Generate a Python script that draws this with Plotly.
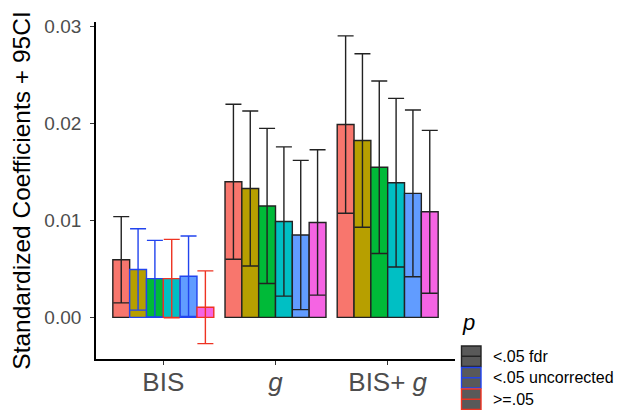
import plotly.graph_objects as go

# ---- data ----
groups = ["BIS", "g", "BIS+g"]
group_labels = ["BIS", "<i>g</i>", "BIS+ <i>g</i>"]
series_names = ["s1", "s2", "s3", "s4", "s5", "s6"]
series_colors = ["#F8766D", "#B79F00", "#00BA38", "#00BFC4", "#619CFF", "#F564E3"]

# estimates (rows = series, cols = groups)
estimates = [
    [0.00595, 0.0140, 0.0199],
    [0.00495, 0.0133, 0.01825],
    [0.0040, 0.0115, 0.0155],
    [0.0040, 0.0099, 0.0139],
    [0.00425, 0.0085, 0.0128],
    [0.00105, 0.0098, 0.0109],
]
# CI half-widths
ci_half = [
    [0.00445, 0.0080, 0.00915],
    [0.00420, 0.0080, 0.00895],
    [0.00395, 0.0080, 0.0089],
    [0.00405, 0.0077, 0.0087],
    [0.00415, 0.0077, 0.0086],
    [0.00375, 0.0075, 0.0084],
]
# significance category per bar
p_cat = [
    ["fdr", "fdr", "fdr"],
    ["unc", "fdr", "fdr"],
    ["unc", "fdr", "fdr"],
    ["ns", "fdr", "fdr"],
    ["unc", "fdr", "fdr"],
    ["ns", "fdr", "fdr"],
]
p_levels = ["fdr", "unc", "ns"]
p_labels = ["<.05 fdr", "<.05 uncorrected", ">=.05"]
p_colors = ["#222222", "#2244EE", "#EE3322"]

y_ticks = [0.0, 0.01, 0.02, 0.03]
y_ticktext = ["0.00", "0.01", "0.02", "0.03"]

FONT = "Liberation Sans, Arial, sans-serif"

fig = go.Figure()
for j, name in enumerate(series_names):
    for k, lvl in enumerate(p_levels):
        idx = [i for i in range(len(groups)) if p_cat[j][i] == lvl]
        if not idx:
            continue
        fig.add_trace(go.Bar(
            x=[i + 1 for i in idx],
            y=[estimates[j][i] for i in idx],
            offsetgroup=str(j),
            marker=dict(color=series_colors[j],
                        line=dict(color=p_colors[k], width=1.4)),
            error_y=dict(type="data", array=[ci_half[j][i] for i in idx],
                         symmetric=True, color=p_colors[k], thickness=1.4, width=8),
            showlegend=False,
            hoverinfo="skip",
        ))

# page body has an 8px margin, so the figure is shifted by (8, 8)
fig.update_layout(
    width=623, height=402,
    margin=dict(l=88, r=176, t=14, b=51),
    barmode="group", bargap=0.1, bargroupgap=0,
    plot_bgcolor="white", paper_bgcolor="white",
    font=dict(family=FONT, color="#4D4D4D"),
    showlegend=False,
)
fig.update_xaxes(
    range=[0.4, 3.6], tickvals=[1, 2, 3], ticktext=group_labels,
    showgrid=False, zeroline=False, automargin=False,
    showline=True, linecolor="black", linewidth=1.8,
    ticks="outside", ticklen=4, tickcolor="#333333", tickwidth=1.2,
    ticklabelstandoff=-5,
    tickfont=dict(size=26, color="#4D4D4D", family=FONT),
)
fig.update_yaxes(
    range=[-0.00429, 0.03048], tickvals=y_ticks, ticktext=y_ticktext,
    showgrid=False, zeroline=False, automargin=False,
    showline=True, linecolor="black", linewidth=1.8,
    ticks="outside", ticklen=4, tickcolor="#333333", tickwidth=1.2,
    ticklabelstandoff=5,
    tickfont=dict(size=19, color="#4D4D4D", family=FONT),
    title=dict(text="Standardized Coefficients + 95CI", standoff=8,
               font=dict(size=24.5, color="black", family=FONT)),
)

# legend drawn manually (keys = filled square with outline and errorbar line)
px0, px1, py0, py1 = 96.0, 455.0, 22.0, 359.0
def xp(px):
    return (px - px0) / (px1 - px0)
def yp(py):
    return (py1 - py) / (py1 - py0)

fig.add_annotation(x=xp(460), y=yp(322), xref="paper", yref="paper",
                   text="<i>p</i>", showarrow=False, xanchor="left", yanchor="middle",
                   font=dict(size=22, color="black", family=FONT))
key_h = 21.5
for k, lab in enumerate(p_labels):
    top = 346 + k * key_h
    bot = top + key_h - 1
    fig.add_shape(type="rect", xref="paper", yref="paper",
                  x0=xp(461.5), x1=xp(481), y0=yp(bot), y1=yp(top),
                  fillcolor="#595959", line=dict(color=p_colors[k], width=1.4))
    fig.add_shape(type="line", xref="paper", yref="paper",
                  x0=xp(461.5), x1=xp(481), y0=yp((top + bot) / 2), y1=yp((top + bot) / 2),
                  line=dict(color=p_colors[k], width=1.4))
    fig.add_annotation(x=xp(491), y=yp((top + bot) / 2), xref="paper", yref="paper",
                       text=lab.replace("<", "&lt;").replace(">", "&gt;"), showarrow=False,
                       xanchor="left", yanchor="middle",
                       font=dict(size=16, color="black", family=FONT))

fig.write_html("out.html")
